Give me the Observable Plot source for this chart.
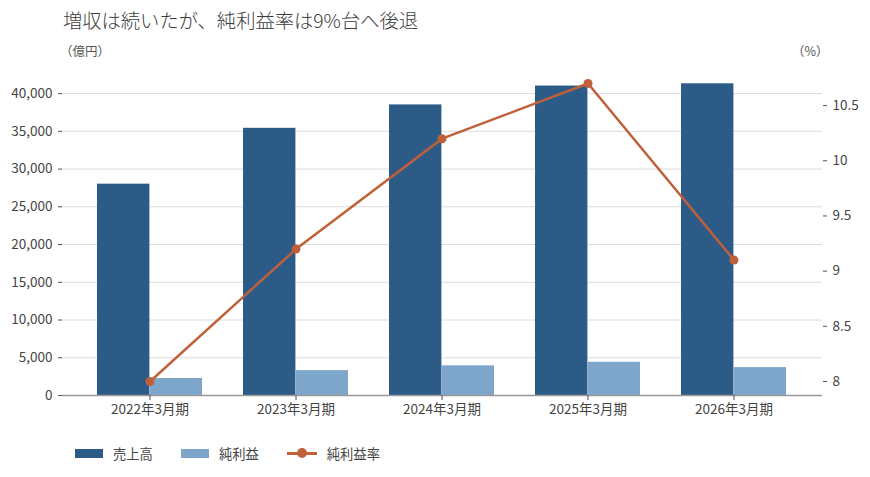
<!DOCTYPE html>
<html><head><meta charset="utf-8">
<script src="https://cdn.jsdelivr.net/npm/d3@7"></script>
<script src="https://cdn.jsdelivr.net/npm/@observablehq/plot@0.6"></script>
<style>
body{margin:0;background:#fff;font-family:"Noto Sans CJK JP",sans-serif;color:#333;width:870px;height:477px;position:relative;overflow:hidden}
#title{position:absolute;left:63px;top:6px;font-size:19.3px;color:#3c3c3c;white-space:nowrap;font-weight:300}
.unit{position:absolute;top:41px;font-size:12.5px;color:#555}
#chart{position:absolute;left:0;top:64px}
#legend{position:absolute;left:75px;top:444px;display:flex;align-items:center;font-size:13.3px;color:#444}
.item{display:flex;align-items:center;margin-right:28px}
.sw{width:28px;height:9px;margin-right:10px}
.ln{position:relative;width:30px;height:3px;margin-right:10px}
.ln i{position:absolute;left:10px;top:-4px;width:10px;height:10px;border-radius:50%}
</style></head>
<body>
<div id="title">増収は続いたが、純利益率は9%台へ後退</div>
<div class="unit" style="left:60px">（億円）</div>
<div class="unit" style="left:792px">（%）</div>
<div id="chart"></div>
<div id="legend"></div>
<script>
const years = ["2022年3月期","2023年3月期","2024年3月期","2025年3月期","2026年3月期"];
const sales = [28000, 35400, 38500, 41000, 41300];
const netIncome = [2250, 3300, 3930, 4400, 3700];
const netMargin = [8.0, 9.2, 10.2, 10.7, 9.1];
const leftTicks = [0,5000,10000,15000,20000,25000,30000,35000,40000];
const rightTicks = [8, 8.5, 9, 9.5, 10, 10.5];
const seriesNames = ["売上高","純利益","純利益率"];
const colors = ["#2d5b88","#7ea6ca","#c0603a"];

// right axis (%) mapped onto left axis units
const leftAtRate8 = 1854;
const leftPerRate = 14622.5;
const toLeft = r => leftAtRate8 + (r - 8) * leftPerRate;
const fromLeft = v => 8 + (v - leftAtRate8) / leftPerRate;

const rows = years.map((y, i) => ({year: y, sales: sales[i], net: netIncome[i], margin: netMargin[i]}));

const chart = Plot.plot({
  width: 870, height: 364,
  marginLeft: 62, marginRight: 48, marginTop: 14, marginBottom: 33,
  style: {fontFamily: '"Noto Sans CJK JP", sans-serif', fontSize: "13.5px", color: "#444", background: "transparent"},
  x: {type: "band", domain: years, paddingInner: 0.28, paddingOuter: 0.24, label: null},
  y: {domain: [0, 42000], label: null},
  marks: [
    Plot.gridY(leftTicks.filter(d => d > 0), {stroke: "#dcdcdc", strokeOpacity: 1}),
    Plot.barY(rows, {x: "year", y: "sales", fill: colors[0], insetRight: 52.6, insetLeft: 0}),
    Plot.barY(rows, {x: "year", y: "net", fill: colors[1], insetLeft: 52.6, insetRight: 0}),
    Plot.ruleY([0], {stroke: "#999", strokeWidth: 1.5}),
    Plot.axisY(leftTicks, {anchor: "left", tickSize: 4, tickPadding: 6, tickFormat: d3.format(","), label: null, stroke: "#555"}),
    Plot.axisY(rightTicks.map(toLeft), {anchor: "right", tickSize: 4, tickPadding: 6, tickFormat: v => String(Math.round(fromLeft(v) * 10) / 10), label: null, stroke: "#555"}),
    Plot.axisX({tickSize: 5, tickPadding: 4, label: null, stroke: "#555"}),
    Plot.line(rows, {x: "year", y: d => toLeft(d.margin), stroke: colors[2], strokeWidth: 2.5}),
    Plot.dot(rows, {x: "year", y: d => toLeft(d.margin), r: 4.5, fill: colors[2]})
  ]
});
document.getElementById("chart").appendChild(chart);

const legend = document.getElementById("legend");
seriesNames.forEach((name, i) => {
  const item = document.createElement("div");
  item.className = "item";
  if (i < 2) {
    item.innerHTML = `<span class="sw" style="background:${colors[i]}"></span><span>${name}</span>`;
  } else {
    item.innerHTML = `<span class="ln" style="background:${colors[i]}"><i style="background:${colors[i]}"></i></span><span>${name}</span>`;
  }
  legend.appendChild(item);
});
</script>
</body></html>
